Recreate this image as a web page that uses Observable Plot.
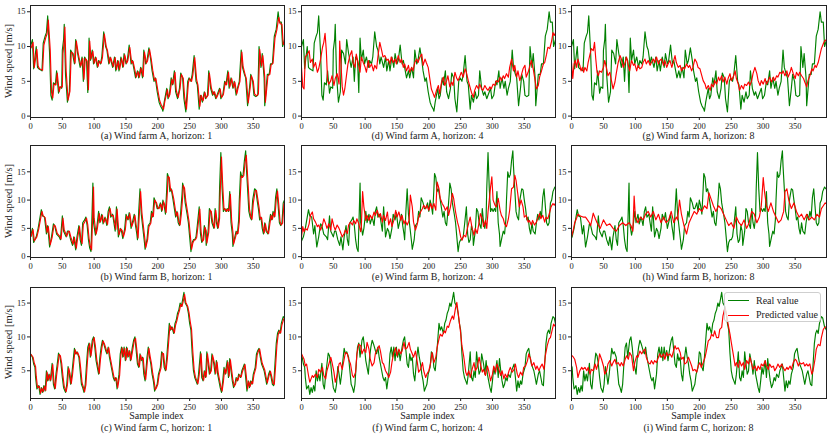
<!DOCTYPE html>
<html><head><meta charset="utf-8">
<script src="https://cdn.jsdelivr.net/npm/d3@7"></script>
<script src="https://cdn.jsdelivr.net/npm/@observablehq/plot@0.6"></script>
<style>
body{margin:0;background:#fff;}
#fig{position:relative;width:831px;height:439px;font-family:"Liberation Serif",serif;overflow:hidden;background:#fff;}
#fig > svg{position:absolute;}
.cap{position:absolute;font-size:10px;white-space:nowrap;transform:translate(-50%,-50%);color:#222;line-height:1;}
.ylab{position:absolute;font-size:10.5px;white-space:nowrap;transform:translate(-50%,-50%) rotate(-90deg);color:#222;line-height:1;}
#legend{position:absolute;left:723.5px;top:291.5px;width:97.5px;height:30.5px;border:1px solid #cfcfcf;border-radius:3px;background:rgba(255,255,255,0.8);box-sizing:border-box;}
#legend .sw{position:absolute;left:3.5px;width:21px;height:0;border-top-style:solid;border-top-width:1.5px;}
#legend .lt{position:absolute;left:31.5px;font-size:10px;color:#222;transform:translateY(-50%);white-space:nowrap;line-height:1;}
</style></head>
<body><div id="fig"></div>
<script>
// ---- data: [sample index, wind speed] pairs ----
const realA = [0,10,3,11,5,6.8,9,10,11,7,13,6.8,18,6.5,20,10.5,23,11.5,25,12,27,14.4,30,9,32,3,34,2.3,36,4.8,39,4.5,41,6.5,44,3.3,46,4.2,49,4,50,9.5,52,11,53,13.2,55,6,58,2,61,3.5,63,9.5,66,9,69,7.5,71,11,74,9,78,7,81,8.5,83,5,85,8.5,88,8,90,3.4,92,11.2,94,8,97,9.5,99,7.5,102,8.5,105,7,107,8,110,7.5,112,8.5,115,12.1,118,10,120,9.5,123,7.5,125,8.5,129,7,132,8.5,134,6.5,137,8,139,6.5,142,8.5,145,7,147,9,150,7.5,152,8,155,10.2,158,7.5,160,8,163,6.5,165,5.5,168,6.5,170,5.5,173,7,176,5.5,178,9.5,181,7.5,183,8,186,9.8,189,8,191,6.5,194,5,196,5.5,199,3.5,202,2,204,1.5,207,1,208,0.7,210,2,214,4,216,2.5,218,3,221,5.5,223,4.5,226,6.5,228,3.5,231,2.5,234,4,236,6.2,239,5.5,241,2.5,244,0.6,247,5,249,5.5,252,5,254,6,257,8.7,260,5,262,4.5,265,1,267,3,270,2,273,3.5,275,2.5,278,3,280,6.5,283,4,286,3,288,3.5,291,2.5,293,3,297,4,299,2.5,302,3,305,5,307,4.5,310,6.5,312,4,315,5.5,318,4,320,5,323,3,325,4,328,5,331,9.5,333,7,336,6,338,5.5,341,1.5,344,4,346,6,349,5,351,3,354,2.8,357,3,359,10,362,7,364,9,367,5.5,368,1.5,372,6,375,6,377,7.5,380,7.5,383,11.5,386,12.5,389,15,391,13.5,394,13.5,396,10,399,11];
const realB = [0,3.5,3,5,5,2.5,9,3.5,12,5,15,7,17,8.3,19,7.2,22,7,25,4,27,5.5,30,1.7,33,3.5,36,5.8,38,5.5,41,4,45,3.5,47,3,50,7.2,52,4.5,56,3.5,58,4.5,60,4.5,63,3,66,2,68,3.5,71,1.2,73,3.5,76,5.5,78,3,80,2,82,6,85,6.5,87,7,89,5.5,91,3,93,1.5,95,0.9,98,13,99,6,102,3.8,104,5,107,8,109,6,112,7.5,114,5.8,117,7,120,5.5,122,8,124,8.8,126,7,129,7.5,131,6,133,4.5,135,8.8,138,3.5,141,5,143,4.5,145,3.2,148,5,150,7.5,153,6.5,155,7.8,158,5,161,6.5,163,7.5,165,5.5,167,4,168,3,170,8,172,12,174,7.5,176,5.5,179,2.5,180,1.3,183,3,185,5.5,188,6,190,8,192,7,194,10.4,197,9.5,199,8.5,201,8.5,204,9.5,206,8,208,10,210,9,212,7.5,214,12,215,14.7,217,14,219,11.5,221,12,224,10,226,8.5,228,7,230,8,232,6,234,5.5,236,8,238,11,239,13,241,12,243,9.5,246,7.5,248,6,250,3.5,252,0.9,254,2.5,256,3,258,3,260,3.5,262,5.5,265,8.8,267,4,269,2.5,271,3,273,5.5,275,4.5,276,2,279,4.5,281,8.5,283,8,285,6,288,5,290,8.5,292,6,294,5,296,7,297,12,299,18.4,301,12,303,8,305,8.5,307,8,309,8.5,311,8,313,11.5,315,6,317,4,318,1.8,321,3.5,323,4.5,325,4,327,6.5,328,10,330,15,332,14,334,14.5,336,17,338,18.7,339,16,341,12,343,8,345,7,347,6.5,349,10,352,12,354,11.8,356,10,358,8.5,360,6.5,362,7,364,5,366,4,368,6,370,4.5,373,4,375,6,377,7.5,379,6.5,381,8,383,7,385,10.5,387,12,389,9,391,6,393,5.5,395,6,397,9.5,399,10,401,11.5,404,12.3,406,12];
const realC = [0,7.5,3,7,5,6,7,5.5,8,4,10,2.3,13,2.8,15,1.5,17,2.5,19,1.8,21,2.8,23,2,25,5,27,3.5,29,4.5,31,3.5,34,6.1,36,3,38,2.3,40,4.5,42,6,44,7.6,46,7.2,48,6,50,4,52,2.5,55,1.8,57,3,59,5.6,61,4.5,63,3,65,4.5,67,6.5,69,8.3,71,7.5,73,7.8,76,7,78,5,80,3,82,2.5,84,1.8,86,3,88,6,90,8.5,92,9.1,94,7,97,9.5,99,10,101,8.5,103,6.5,105,5.5,107,4.5,109,7,111,8.5,113,9.5,115,9,118,8,120,7.5,122,8.5,124,7,126,6,128,5,130,4,132,3.5,134,4,136,2.3,139,4.5,141,7.5,143,8.5,145,7,147,8.5,149,6.5,151,8.5,153,7,155,8,157,6.5,160,8.5,162,9.5,164,10,166,8,168,6,170,5.5,172,7.5,174,6.5,176,7,178,4.5,180,3.5,183,7,185,8.5,187,7,189,6,191,4.5,193,3.5,195,2,197,2.5,199,3,201,4.5,204,5.5,206,7.8,208,7.5,210,5.5,212,5,214,7,216,9.5,218,12,220,11,222,11.5,225,10.5,227,12,229,12.5,231,13.5,233,14,235,15,237,14.5,239,15.5,241,16.6,243,15,246,14.5,248,13.5,250,12,252,11,254,7.5,256,5,258,4,260,3.5,262,3,264,4.5,267,7.8,269,4,271,3.5,273,5,275,4,277,7.8,279,6,281,4.5,283,5,285,7.5,288,6,290,4.5,292,6.5,294,4.5,296,3.5,298,2.5,300,1.8,302,3.5,304,5.5,306,4.5,309,6.5,311,4,313,6.8,315,5,317,3.5,319,2.5,321,3,323,4,325,3.5,327,4.5,330,4,332,5,334,5.5,336,6,338,4,340,2,342,3.5,344,2.5,346,3.5,348,3,350,4.5,353,5.5,355,7.5,357,8,359,8.3,361,7,363,6,365,5.5,367,5,369,4,371,3,374,4.5,376,5,378,4,380,3,382,2.8,384,6,386,9,388,10.5,390,11,392,10.5,394,12,397,13,399,12.8,402,11.5,405,11];

const predA1 = [1,9.8,4,10.6,6,7,10,9.6,12,7.2,14,6.8,19,6.6,21,10.2,24,11.3,26,11.8,28,13.8,31,9.5,33,3.5,35,2.6,37,4.6,40,4.5,42,6.2,45,3.5,47,4.2,50,4.2,51,9,53,10.8,54,12.8,56,6.5,59,2.3,62,3.6,64,9.2,67,9,70,7.6,72,10.8,75,9,79,7.2,82,8.3,84,5.3,86,8.3,89,7.9,91,3.8,93,10.8,95,8.2,98,9.3,100,7.6,103,8.4,106,7.1,108,7.9,111,7.6,113,8.4,116,11.8,119,10,121,9.4,124,7.6,126,8.4,130,7.1,133,8.4,135,6.7,138,7.9,140,6.7,143,8.3,146,7.1,148,8.8,151,7.6,153,8,156,9.9,159,7.6,161,7.9,164,6.6,166,5.6,169,6.4,171,5.6,174,6.9,177,5.7,179,9.2,182,7.6,184,8,187,9.6,190,8,192,6.6,195,5.1,197,5.4,200,3.7,203,2.2,205,1.7,208,1.2,209,1,211,2.1,215,3.8,217,2.7,219,3.1,222,5.3,224,4.6,227,6.3,229,3.7,232,2.7,235,4,237,6,240,5.4,242,2.8,245,1,248,4.8,250,5.4,253,5,255,5.9,258,8.4,261,5.2,263,4.5,266,1.4,268,3,271,2.2,274,3.4,276,2.6,279,3,281,6.2,284,4.1,287,3.1,289,3.5,292,2.6,294,3,298,3.9,300,2.7,303,3.1,306,4.9,308,4.5,311,6.3,313,4.2,316,5.4,319,4.1,321,4.9,324,3.2,326,4,329,5,332,9.2,334,7.1,337,6,339,5.4,342,1.9,345,4,347,5.8,350,5,352,3.2,355,2.9,358,3.2,360,9.6,363,7.2,365,8.7,368,5.6,369,2,373,5.8,376,6,378,7.4,381,7.6,384,11.2,387,12.4,390,14.2,392,13.3,395,13.2,397,10.3,399,10.6];
const predA4 = [0,7.0,2,4.2,4,3.9,6,8.5,9,8.9,12,9.4,14,7.7,17,8.2,19,7.0,22,7.7,25,6.3,27,6.8,30,8.2,33,9.9,35,10.6,37,11.9,39,9.4,41,5.1,43,4.6,46,5.1,48,5.8,51,4.4,53,5.4,56,6.1,59,4.6,60,10.8,62,7.5,64,4.2,66,3.0,68,3.9,71,6.1,73,7.5,76,8.7,79,9.4,81,7.7,84,7.0,86,8.9,89,7.7,92,6.3,94,8.5,97,7.7,100,7.0,102,6.3,105,8.0,107,7.0,110,7.5,113,6.5,115,7.3,118,6.8,120,8.5,123,10.6,126,9.4,128,8.5,131,8.7,134,8.0,136,8.2,139,7.5,141,8.5,144,7.7,147,8.2,149,7.5,152,8.7,155,7.7,157,8.2,160,7.0,162,7.5,165,6.5,168,7.3,170,6.3,173,7.0,175,6.5,178,7.7,181,8.2,183,7.7,186,8.5,189,8.9,191,7.3,194,8.2,196,7.7,199,7.0,202,5.1,204,3.9,207,3.2,209,2.7,212,3.7,215,4.4,217,3.2,220,4.9,223,5.6,225,4.4,228,5.1,230,5.8,233,4.2,236,4.9,238,4.4,241,6.3,244,5.4,246,5.1,249,5.8,251,6.3,254,5.6,257,6.8,259,6.3,262,5.1,264,4.4,267,3.4,270,2.7,272,3.7,275,4.4,278,3.9,280,4.6,283,3.9,285,3.7,288,4.4,291,3.9,293,3.7,296,4.2,298,3.9,301,4.6,304,4.4,306,5.1,309,4.9,312,5.6,314,5.1,317,5.8,319,5.4,322,6.1,325,5.6,327,7.0,330,8.2,333,6.5,335,7.3,338,5.6,340,6.5,343,5.1,346,6.1,348,6.8,351,7.3,353,5.6,356,6.3,359,7.3,361,8.0,364,6.8,367,5.1,369,3.9,372,4.4,374,5.6,377,6.5,380,7.5,382,7.7,385,8.9,387,9.9,390,9.7,393,10.8,395,12.0,397,11.6,399,12];
const predA8 = [0,7.7,2,5.4,4,7.5,6,8.0,8,7.0,10,8.2,13,7.3,15,6.5,17,7.0,19,6.3,21,7.0,24,6.5,26,7.7,29,8.9,31,9.7,34,9.4,36,10.6,38,8.2,40,6.3,42,5.8,44,6.5,47,6.3,50,7.0,52,8.0,55,6.8,57,5.8,60,6.3,63,4.9,65,3.9,68,4.9,70,6.1,73,7.7,76,8.7,78,8.2,81,7.0,84,7.7,86,8.5,89,7.3,91,6.5,94,8.0,97,7.3,99,7.5,102,6.5,104,7.3,107,6.8,110,7.0,112,7.7,115,8.2,117,7.5,120,8.0,123,7.3,125,7.7,128,8.2,130,7.7,133,8.5,136,7.5,138,8.0,141,8.2,144,7.3,146,8.0,149,7.0,151,7.5,154,8.0,157,7.0,159,7.7,162,8.7,164,7.7,167,7.0,170,7.3,172,6.5,175,7.0,177,6.8,180,7.5,183,7.0,185,7.3,188,6.5,190,7.0,193,8.2,196,7.7,198,7.0,201,6.8,203,6.1,206,5.1,209,4.6,211,3.9,214,4.4,217,3.7,219,4.6,222,4.2,224,5.1,227,4.6,230,5.6,232,5.1,235,5.8,237,4.9,240,5.6,243,4.6,245,5.4,248,6.1,250,5.1,253,5.6,256,6.5,258,5.4,261,4.6,263,3.7,266,4.4,269,3.9,271,4.6,274,4.4,277,4.9,279,4.4,282,5.1,284,6.1,287,7.0,290,6.1,292,5.1,295,4.4,297,5.1,300,4.6,303,5.4,305,4.6,308,5.1,310,5.6,313,4.9,316,5.6,318,5.1,321,5.8,323,5.6,326,6.3,329,6.1,331,6.5,334,5.8,337,6.5,339,5.6,342,6.3,344,7.0,347,6.1,350,5.4,352,6.3,355,5.8,357,6.3,360,5.8,363,5.4,365,4.9,368,4.2,370,5.1,373,5.8,376,6.8,378,6.5,381,7.3,383,7.0,386,7.7,389,8.9,391,9.7,394,10.4,396,10.8,399,11];

const predB1 = [1,3.6,4,4.8,6,2.8,10,3.5,13,4.9,16,6.8,18,8,20,7.2,23,6.9,26,4.3,28,5.3,31,2.1,34,3.4,37,5.6,39,5.4,42,4.1,46,3.6,48,3.1,51,6.8,53,4.7,57,3.6,59,4.4,61,4.5,64,3.2,67,2.2,69,3.4,72,1.5,74,3.3,77,5.3,79,3.2,81,2.3,83,5.7,86,6.3,88,6.8,90,5.6,92,3.2,94,1.8,96,1.2,99,12.3,100,6.8,103,4,105,4.9,108,7.6,110,6.2,113,7.3,115,6,118,6.8,121,5.7,123,7.7,125,8.5,127,7.2,130,7.3,132,6.1,134,4.8,136,8.4,139,3.9,142,4.9,144,4.6,146,3.5,149,4.8,151,7.2,154,6.6,156,7.6,159,5.3,162,6.3,164,7.3,166,5.6,168,4.2,169,3.3,171,7.6,173,11.5,175,7.8,177,5.7,180,2.8,181,1.6,184,3,186,5.3,189,5.9,191,7.7,193,7.1,195,10,198,9.5,200,8.6,202,8.5,205,9.3,207,8.2,209,9.7,211,9.1,213,7.8,215,11.4,216,14.2,218,14,220,11.8,222,11.8,225,10.2,227,8.7,229,7.2,231,7.8,233,6.2,235,5.6,237,7.6,239,10.5,240,12.6,242,12.1,244,9.8,247,7.7,249,6.2,251,3.8,253,1.3,255,2.4,257,2.9,259,3,261,3.4,263,5.3,266,8.4,268,4.4,270,2.7,272,3,274,5.2,276,4.6,277,2.4,280,4.3,282,8.2,284,8,286,6.2,289,5.1,291,8.2,293,6.2,295,5.1,297,6.7,298,11.3,300,17.6,302,12.5,304,8.3,306,8.4,308,8,310,8.4,312,8.1,314,11,316,6.4,318,4.3,319,2.2,322,3.4,324,4.4,326,4.1,328,6.2,329,9.5,331,14.3,333,14,335,14.3,337,16.6,339,17.9,340,16.2,342,12.5,344,8.4,346,7.1,348,6.6,350,9.5,353,11.7,355,11.7,357,10.2,359,8.7,361,6.7,363,6.9,365,5.2,367,4.2,369,5.8,371,4.6,374,4.1,376,5.8,378,7.3,380,6.6,382,7.8,384,7.1,386,10.1,388,11.6,390,9.2,392,6.2,394,5.6,396,5.9,398,9.2,399,9.6];
const predB4 = [0,3.5,2,5.3,4,4.4,6,5.0,9,4.7,12,5.8,14,7.3,17,7.9,19,6.7,22,6.1,25,5.3,27,5.6,30,4.7,33,5.6,35,6.7,38,5.8,40,5.0,43,5.8,46,4.7,48,6.7,51,5.3,53,4.7,56,5.6,59,5.0,61,4.4,64,3.5,67,4.1,69,4.7,72,4.1,74,5.6,77,6.1,80,5.6,82,6.4,85,5.8,87,6.7,90,5.8,93,4.4,94,5.3,96,11.5,98,8.8,101,6.4,103,7.3,106,6.4,108,7.3,111,6.7,114,7.9,116,7.3,119,8.2,122,7.0,124,7.6,127,6.1,129,7.3,132,6.4,135,7.9,137,5.6,140,6.7,142,5.3,145,6.4,148,8.2,150,7.0,153,7.9,156,6.4,158,7.3,161,5.8,163,6.4,166,5.6,169,6.4,171,10.9,174,8.8,176,6.1,179,4.7,182,5.8,184,7.0,187,7.9,190,8.5,192,9.1,195,8.5,197,9.1,200,8.2,203,9.4,205,8.5,208,9.4,211,8.2,213,13.2,216,12.0,218,10.3,221,9.4,224,8.8,226,8.2,229,8.8,231,7.3,234,8.8,237,11.2,239,10.3,242,7.9,245,6.1,247,5.3,250,3.5,252,2.9,255,3.8,258,3.5,260,4.7,263,6.1,265,7.0,268,5.0,271,3.8,273,5.0,276,4.1,279,6.1,281,7.6,284,6.7,286,5.3,289,6.4,291,5.0,293,7.9,295,10.0,297,12.3,299,14.1,301,10.0,304,9.1,306,8.8,309,10.3,312,8.2,314,7.3,317,6.7,319,5.8,322,5.3,325,6.7,327,8.2,330,12.0,333,12.3,335,14.4,337,13.5,340,10.9,342,8.8,345,10.0,348,8.8,350,7.0,353,7.3,356,6.1,358,6.4,361,5.6,363,6.4,366,5.6,369,6.1,371,6.7,374,7.6,376,6.7,379,7.3,382,6.1,384,7.0,387,6.7,390,7.9,392,8.8,395,9.4,397,9.1,399,9.5];
const predB8 = [0,3.5,3,4.8,5,6.0,8,6.8,10,7.5,14,7.2,18,7.0,22,7.0,25,6.5,28,6.0,30,5.5,34,7.7,37,6.8,40,6.0,45,5.0,50,6.5,55,5.5,60,5.8,65,5.0,70,4.5,75,5.5,80,6.0,85,5.5,90,6.0,93,5.5,96,4.5,98,10.7,100,7.0,104,6.0,108,7.0,112,6.5,116,7.5,120,8.0,124,7.0,128,8.0,132,6.5,136,7.5,140,6.0,144,7.0,148,6.0,152,6.5,156,8.0,160,6.0,164,7.0,166,6.5,169,10.0,172,7.5,176,5.5,180,4.0,184,6.0,188,7.0,192,8.0,196,7.5,200,8.5,204,8.0,208,9.0,212,8.5,215,11.3,219,10.0,222,9.0,226,8.0,230,9.0,234,8.5,238,7.5,242,6.5,246,5.5,250,6.0,254,5.0,258,7.0,262,6.0,266,5.5,270,6.5,274,5.0,278,6.0,282,8.0,286,7.5,290,6.0,294,7.0,297,9.0,300,14.0,302,11.5,305,9.0,308,8.0,312,9.5,316,8.0,320,7.0,324,6.0,328,6.5,332,8.0,334,11.5,337,12.0,340,10.0,344,8.5,348,9.5,352,8.0,356,7.0,360,7.5,364,6.5,368,7.5,372,6.5,376,7.0,380,6.5,384,7.5,388,7.0,391,8.5,394,9.0,397,9.5,399,9.3];

const predC1 = [1,7.4,4,7,6,6.1,8,5.6,9,4.2,11,2.5,14,2.7,16,1.7,18,2.4,20,1.9,22,2.7,24,2.1,26,4.8,28,3.6,30,4.4,32,3.6,35,5.9,37,3.2,39,2.4,41,4.3,43,5.8,45,7.4,47,7.2,49,6.1,51,4.2,53,2.7,56,1.9,58,2.9,60,5.4,62,4.6,64,3.1,66,4.4,68,6.3,70,8.1,72,7.5,74,7.7,77,7,79,5.2,81,3.2,83,2.6,85,1.9,87,2.9,89,5.8,91,8.3,93,9,95,7.2,98,9.3,100,9.9,102,8.6,104,6.7,106,5.6,108,4.6,110,6.8,112,8.3,114,9.4,116,9,119,8.1,121,7.6,123,8.4,125,7.1,127,6.1,129,5.1,131,4.1,133,3.6,135,3.9,137,2.5,140,4.3,142,7.3,144,8.4,146,7.1,148,8.3,150,6.6,152,8.3,154,7.1,156,7.9,158,6.6,161,8.3,163,9.4,165,9.8,167,8.1,169,6.2,171,5.6,173,7.3,175,6.6,177,6.9,179,4.7,181,3.7,184,6.8,186,8.3,188,7.1,190,6.1,192,4.6,194,3.6,196,2.2,198,2.5,200,3,202,4.4,205,5.4,207,7.6,209,7.5,211,5.7,213,5.1,215,6.8,217,9.2,219,11.7,221,11.1,223,11.4,226,10.6,228,11.8,230,12.4,232,13.3,234,13.9,236,14.8,238,14.5,240,15.3,242,16.3,244,15.1,247,14.5,249,13.6,251,12.2,253,11.1,255,7.8,257,5.2,259,4.1,261,3.6,263,3.1,265,4.4,268,7.5,270,4.2,272,3.6,274,4.9,276,4.1,278,7.5,280,6.1,282,4.6,284,5,286,7.3,289,6.1,291,4.6,293,6.3,295,4.6,297,3.6,299,2.6,301,2,303,3.4,305,5.3,307,4.6,310,6.3,312,4.2,314,6.6,316,5.1,318,3.6,320,2.7,322,3,324,3.9,326,3.6,328,4.4,331,4.1,333,4.9,335,5.4,337,5.9,339,4.2,341,2.3,343,3.4,345,2.7,347,3.4,349,3.1,351,4.4,354,5.4,356,7.3,358,7.9,360,8.2,362,7.1,364,6.1,366,5.6,368,5.1,370,4.1,372,3.2,375,4.4,377,4.9,379,4.1,381,3.1,383,3,385,5.7,387,8.7,389,10.3,391,10.9,393,10.6,395,11.8,398,12.7,399,12.8];
const predC4 = [0,7.5,2,7.1,4,6.7,6,5.7,8,6.0,11,4.3,13,3.3,15,3.8,17,4.3,19,4.0,22,4.5,25,4.0,27,5.2,30,4.8,33,5.5,35,4.3,38,3.8,40,5.0,43,6.0,46,7.0,48,6.2,51,4.8,53,3.3,56,4.3,59,6.0,61,6.2,64,5.2,67,6.7,69,7.7,72,7.5,74,6.7,77,6.0,80,4.3,82,4.0,85,4.8,87,7.5,90,8.9,93,8.7,95,7.5,98,8.2,101,7.7,103,9.2,106,8.2,108,6.7,111,5.7,114,6.2,116,7.5,119,8.2,122,8.7,124,7.9,127,6.2,129,6.0,132,5.0,135,4.5,137,4.0,140,4.8,142,6.2,145,7.7,148,8.4,150,7.2,153,8.2,156,7.5,158,7.9,161,9.2,163,8.2,166,8.4,169,9.2,171,8.2,174,7.5,176,7.0,179,7.9,182,6.2,184,4.8,187,5.2,190,6.2,192,5.0,195,4.0,197,4.5,200,5.0,203,6.2,205,7.7,208,6.2,211,7.0,213,8.4,216,9.7,218,10.4,221,10.1,224,10.9,226,10.6,229,11.6,231,11.4,234,12.4,237,13.1,239,12.6,242,14.3,244,15.1,246,13.6,248,12.1,250,10.6,252,8.7,255,7.0,258,4.8,260,4.3,263,5.0,265,4.0,268,5.2,271,6.2,273,5.0,276,5.5,279,7.0,281,6.0,284,4.8,286,5.2,289,4.3,292,5.7,294,5.0,297,3.5,300,4.5,302,5.7,305,4.8,307,6.0,310,5.2,313,4.3,315,5.0,318,3.8,320,4.5,323,4.0,326,5.0,328,5.5,331,4.8,334,5.2,336,6.0,339,4.5,341,4.0,344,4.8,347,4.3,349,5.5,352,5.7,355,6.5,357,7.5,360,6.7,362,5.7,365,6.2,368,5.2,370,5.7,373,5.0,375,5.5,378,6.0,381,5.2,383,7.2,386,8.7,389,9.7,391,9.9,394,11.1,396,11.9,399,11.5];
const predC8 = [0,7.3,3,7.0,5,6.7,8,5.5,10,4.0,13,5.0,16,5.5,18,5.2,21,5.5,24,5.0,26,5.5,29,4.5,31,5.2,34,5.0,37,6.0,39,5.2,42,6.2,44,7.5,47,6.7,50,5.7,52,4.5,55,5.0,57,6.0,60,6.5,63,5.7,65,6.2,68,6.7,70,6.0,73,6.2,76,5.7,78,6.2,81,5.7,84,6.7,86,7.2,89,6.7,91,7.7,94,7.2,97,5.0,99,6.2,102,7.2,104,7.0,107,7.9,110,7.5,112,7.9,115,8.2,117,7.0,120,6.2,123,6.0,125,6.5,128,6.0,130,6.5,133,6.2,136,7.0,138,7.5,141,7.0,144,7.5,146,6.7,149,7.7,151,7.2,154,7.5,157,7.0,159,7.7,162,8.7,164,8.2,167,8.4,170,7.7,172,6.7,175,7.0,177,6.0,180,6.2,183,7.0,185,6.5,188,5.7,190,5.0,193,5.2,196,4.8,198,5.7,201,6.2,203,5.5,206,6.2,209,7.0,211,7.9,214,9.4,217,9.7,219,10.4,222,10.1,224,10.9,227,9.9,230,9.9,232,11.1,235,11.4,237,13.1,240,14.3,243,13.1,245,11.9,248,10.4,250,9.2,253,7.5,256,5.7,258,6.2,261,5.5,263,6.5,266,5.7,269,6.2,271,5.2,274,6.5,277,6.0,279,7.0,282,6.0,284,5.2,287,5.7,290,5.0,292,5.7,295,5.2,297,6.0,300,5.7,303,6.5,305,5.7,308,5.2,310,6.0,313,5.5,316,5.7,318,5.0,321,5.5,323,6.0,326,5.5,329,6.0,331,5.5,334,5.0,337,5.5,339,5.2,342,5.7,344,5.2,347,6.2,350,6.7,352,6.5,355,5.7,357,6.2,360,6.0,363,6.2,365,5.7,368,6.0,370,5.7,373,6.0,376,4.5,378,5.0,381,6.7,383,8.2,386,8.9,389,8.7,391,9.9,394,11.1,396,11.4,399,11.5];

const farms = ["A", "B", "C"];
const horizons = [1, 4, 8];
const letters = ["a","b","c","d","e","f","g","h","i"];
const realSeries = {A: realA, B: realB, C: realC};
const predSeries = {A: [predA1, predA4, predA8], B: [predB1, predB4, predB8], C: [predC1, predC4, predC8]};
const realShift = {A: [0, 0, 0], B: [0, 6, 8], C: [0, 2, 6]};
const xDomain = [0, 399];
const xTicks = [0, 50, 100, 150, 200, 250, 300, 350];
const yDomains = [[-0.2, 15.9], [-0.15, 19.65], [0.9, 17.3]];
const yTicks = [[0, 5, 10, 15], [0, 5, 10, 15], [5, 10, 15]];
const legendLabels = ["Real value", "Predicted value"];
const seriesColors = ["green", "red"];

// ---- layout (pixels) ----
const colLeft = [29.5, 300.5, 571], colW = [254, 254, 255];
const rowTop = [4.7, 145.3, 286.7], rowH = [112, 112, 111];

function pts(arr, shift) {
  const out = [];
  for (let k = 0; k < arr.length; k += 2) out.push({x: arr[k] - shift, y: arr[k + 1]});
  return out;
}

const fig = document.getElementById("fig");
const ml = 30, mr = 4, mt = 4, mb = 18;

for (let c = 0; c < 3; c++) {
  for (let r = 0; r < 3; r++) {
    const f = farms[r];
    const real = pts(realSeries[f], realShift[f][c]);
    const pred = pts(predSeries[f][c], 0);
    const svg = Plot.plot({
      width: colW[c] + ml + mr,
      height: rowH[r] + mt + mb,
      marginLeft: ml, marginRight: mr, marginTop: mt, marginBottom: mb,
      style: {background: "transparent", fontFamily: "'Liberation Serif', serif", fontSize: "8.5px", color: "#222", overflow: "visible"},
      x: {domain: xDomain},
      y: {domain: yDomains[r]},
      marks: [
        Plot.line(real, {x: "x", y: "y", stroke: seriesColors[0], strokeWidth: 1.15, clip: true}),
        Plot.line(pred, {x: "x", y: "y", stroke: seriesColors[1], strokeWidth: 1.15, clip: true}),
        Plot.frame({stroke: "#222", strokeWidth: 1}),
        Plot.axisX({ticks: xTicks, tickSize: 3, tickPadding: 2, label: null, fontSize: 8.5}),
        Plot.axisY({ticks: yTicks[r], tickSize: 3, tickPadding: 2, label: null, fontSize: 8.5})
      ]
    });
    svg.style.left = (colLeft[c] - ml) + "px";
    svg.style.top = (rowTop[r] - mt) + "px";
    fig.appendChild(svg);

    const cap = document.createElement("div");
    cap.className = "cap";
    cap.textContent = `(${letters[c * 3 + r]}) Wind farm ${f}, horizon: ${horizons[c]}`;
    cap.style.left = (colLeft[c] + colW[c] / 2) + "px";
    cap.style.top = (r === 2 ? 427.7 : rowTop[r] + rowH[r] + 19.5) + "px";
    fig.appendChild(cap);

    if (c === 0) {
      const yl = document.createElement("div");
      yl.className = "ylab";
      yl.textContent = "Wind speed [m/s]";
      yl.style.left = "9px";
      yl.style.top = (rowTop[r] + rowH[r] / 2) + "px";
      fig.appendChild(yl);
    }
    if (r === 2) {
      const xl = document.createElement("div");
      xl.className = "cap";
      xl.textContent = "Sample index";
      xl.style.left = (colLeft[c] + colW[c] / 2) + "px";
      xl.style.top = "416px";
      fig.appendChild(xl);
    }
  }
}

// legend in panel (i)
const lg = document.createElement("div");
lg.id = "legend";
legendLabels.forEach((lab, k) => {
  const cy = 8.5 + k * 14.3;
  const sw = document.createElement("div");
  sw.className = "sw";
  sw.style.top = (cy - 0.75) + "px";
  sw.style.borderTopColor = seriesColors[k];
  const t = document.createElement("div");
  t.className = "lt";
  t.style.top = cy + "px";
  t.textContent = lab;
  lg.appendChild(sw); lg.appendChild(t);
});
fig.appendChild(lg);
</script>
</body></html>
